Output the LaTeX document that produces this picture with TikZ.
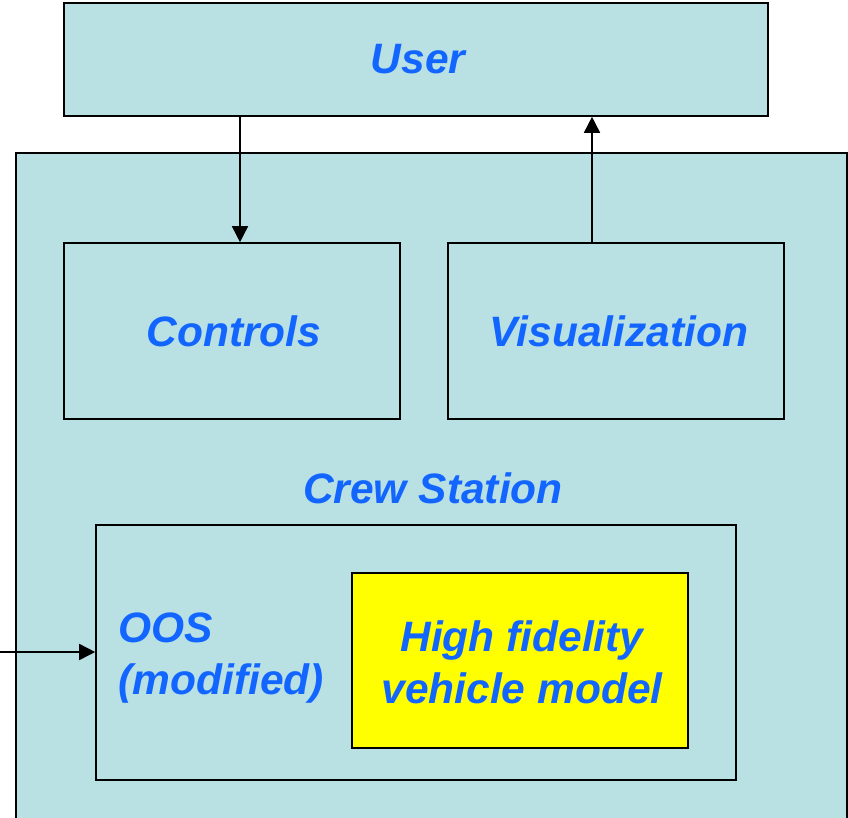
\documentclass[tikz,border=0pt]{standalone}
\usepackage{fontspec}
\setmainfont{Liberation Sans}
\usetikzlibrary{arrows.meta}
\definecolor{boxblue}{RGB}{185,224,227}
\definecolor{txtblue}{RGB}{18,102,255}
\definecolor{hiyellow}{RGB}{255,255,0}
\tikzset{
  blk/.style={draw=black,line width=1.6pt,fill=boxblue,inner sep=0pt},
  lbl/.style={text=txtblue,font=\fontsize{42.5}{52}\selectfont\bfseries\itshape},
  arr/.style={line width=1.6pt,-{Triangle[length=16pt,width=16pt]}}
}
\begin{document}
\begin{tikzpicture}[x=1pt,y=-1pt]
        \useasboundingbox (0,0) rectangle (848,817);
        \clip (0,0) rectangle (848,817);
        \draw[blk] (16,153) rectangle (847,840);
        \node[blk,minimum width=704pt,minimum height=113pt] (user) at (416,59.5) {};
        \node[lbl] at ([xshift=2pt]user) {User};
        \node[blk,minimum width=336pt,minimum height=176pt] (controls) at (232,331) {};
        \node[lbl] at ([xshift=2pt]controls) {Controls};
        \node[blk,minimum width=336pt,minimum height=176pt] (visual) at (616,331) {};
        \node[lbl] at ([xshift=3pt]visual) {Visualization};
        \node[lbl] (crew) at (433,488) {Crew Station};
        \node[blk,minimum width=640pt,minimum height=255pt] (oos) at (416,652.5) {};
        \node[lbl,anchor=west,align=left] (oostxt) at (115,658) {OOS\\(modified)};
        \node[blk,fill=hiyellow,minimum width=336pt,minimum height=175pt] (hifi) at (520,660.5) {};
        \node[lbl,align=center] at ([xshift=2pt,yshift=-2pt]hifi) {High fidelity\\vehicle model};
        \coordinate (ext) at (0,652);
        \draw[arr] ([xshift=8pt]controls.north |- user.south) -- ([xshift=8pt]controls.north);
        \draw[arr] ([xshift=-24pt]visual.north) -- ([xshift=-24pt]visual.north |- user.south);
        \draw[arr] (ext) -- (ext -| oos.west);
    \end{tikzpicture}
\end{document}
